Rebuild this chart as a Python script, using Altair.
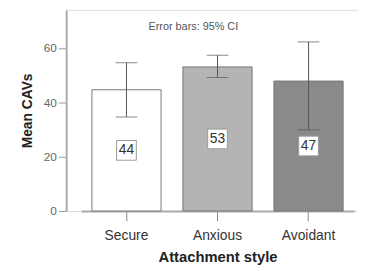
import altair as alt
import pandas as pd

styles = ["Secure", "Anxious", "Avoidant"]
means = [44.6, 53.0, 47.8]
labels = ["44", "53", "47"]
ci_low = [34.6, 49.1, 29.8]
ci_high = [54.5, 57.3, 62.2]
fills = ["#ffffff", "#b4b4b4", "#8a8a8a"]

df = pd.DataFrame({
    "style": styles, "mean": means, "label": labels,
    "lo": ci_low, "hi": ci_high, "fill": fills,
})
df["mid"] = df["mean"] / 2

font = "Liberation Sans"
x = alt.X("style:N", sort=styles, title="Attachment style",
          scale=alt.Scale(range=[15, 292], paddingInner=0.24, paddingOuter=0.12),
          axis=alt.Axis(labelAngle=0, labelFontSize=14, labelColor="#333", labelFont=font,
                        titleFontSize=15, titleFont=font, titleFontWeight="bold", titleColor="#222",
                        domainColor="#aaaaaa", domainWidth=2, tickColor="#888", tickSize=10,
                        labelPadding=8, titlePadding=7))
y_scale = alt.Scale(domain=[0, 74], nice=False)

base = alt.Chart(df)

bars = base.mark_bar(stroke="#777", strokeWidth=1).encode(
    x=x,
    y=alt.Y("mean:Q", scale=y_scale, title="Mean CAVs",
            axis=alt.Axis(values=[0, 20, 40, 60], grid=False, labelFontSize=12, labelFont=font,
                          labelColor="#666", titleFontSize=14, titleFont=font, titleFontWeight="bold",
                          titleColor="#222", domainColor="#aaaaaa", domainWidth=2,
                          tickColor="#999", tickSize=8, titlePadding=9)),
    fill=alt.Fill("fill:N", scale=None),
)

rule = base.mark_rule(color="#555", strokeWidth=1).encode(
    x=alt.X("style:N", sort=styles), y="lo:Q", y2="hi:Q")
cap_lo = base.mark_tick(color="#555", thickness=1, size=22).encode(
    x=alt.X("style:N", sort=styles), y="lo:Q")
cap_hi = base.mark_tick(color="#555", thickness=1, size=22).encode(
    x=alt.X("style:N", sort=styles), y="hi:Q")

boxes = base.mark_square(size=400, fill="white", stroke="#999", strokeWidth=1, opacity=1).encode(
    x=alt.X("style:N", sort=styles), y="mid:Q")
texts = base.mark_text(fontSize=14, font=font, color="#333").encode(
    x=alt.X("style:N", sort=styles), y="mid:Q", text="label:N")

note = alt.Chart(pd.DataFrame({"t": ["Error bars: 95% CI"]})).mark_text(
    fontSize=11, font=font, color="#555").encode(
    x=alt.value(129), y=alt.value(17), text="t:N")

chart = alt.layer(bars, rule, cap_lo, cap_hi, boxes, texts, note).properties(
    width=296, height=204,
    autosize=alt.AutoSizeParams(type="none"),
    padding={"left": 59, "top": 0, "right": 0, "bottom": 58},
).configure_view(stroke="#bbbbbb", strokeWidth=2).configure(background="white")

chart.save("out.html", embed_options={"renderer": "svg", "actions": False})
